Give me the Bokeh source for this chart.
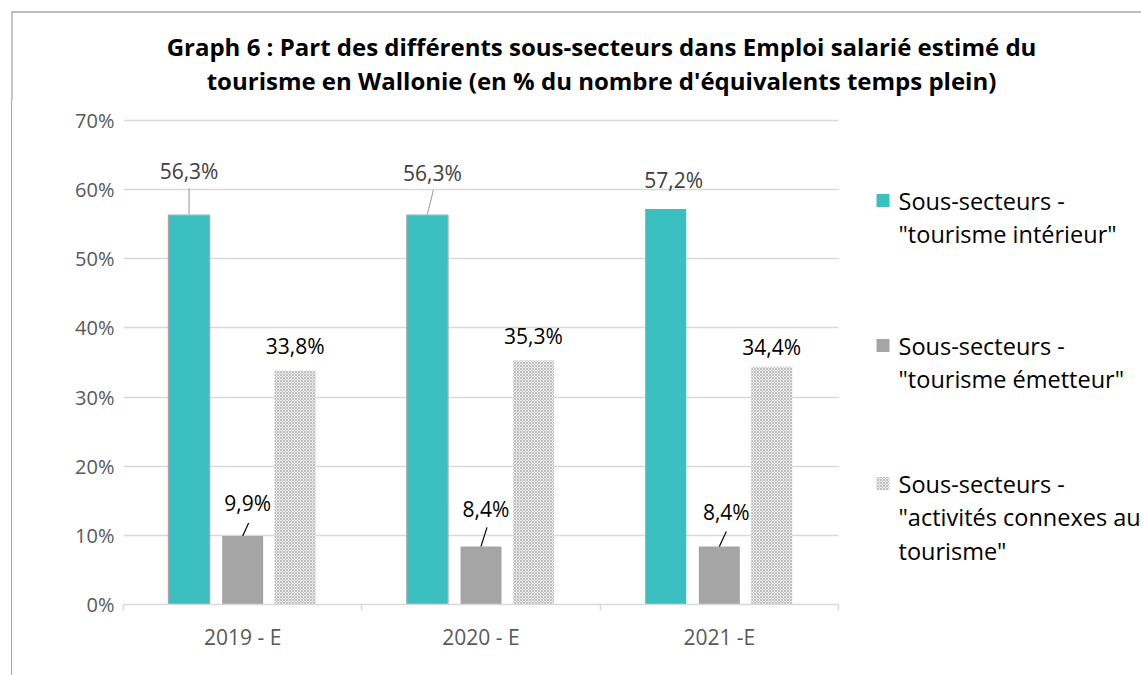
import numpy as np
from bokeh.plotting import figure
from bokeh.layouts import column, row
from bokeh.models import (ColumnDataSource, Range1d, LinearAxis, FixedTicker,
                          PrintfTickFormatter, LabelSet, Label, BoxAnnotation, Div)
from bokeh.core.properties import value
from bokeh.embed import file_html
from bokeh.resources import INLINE

# ---------------- data ----------------
categories = ["2019 - E", "2020 - E", "2021 -E"]
series_names = ['Sous-secteurs -\n"tourisme intérieur"',
                'Sous-secteurs -\n"tourisme émetteur"',
                'Sous-secteurs -\n"activités connexes au\ntourisme"']
interieur = [56.3, 56.3, 57.2]
emetteur = [9.9, 8.4, 8.4]
connexes = [33.8, 35.3, 34.4]
y_ticks = [0, 10, 20, 30, 40, 50, 60, 70]
title_lines = ["Graph 6 : Part des différents sous-secteurs dans Emploi salarié estimé du",
               "tourisme en Wallonie (en % du nombre d'équivalents temps plein)"]

# ---------------- styles ----------------
FONT = "Open Sans"
TEAL = "#3BBFC1"
GREY = "#A5A5A5"
GRID = "#D9D9D9"
TXT = "#595959"
BORDER = "#A6A6A6"
HATCH = dict(hatch_pattern="diagonal_cross", hatch_scale=3,
             hatch_color="#BFBFBF", hatch_weight=1)
bar_w = 0.172
offsets = [-0.225, 0.0, 0.22]

lab_dx = [[0, 5, 8], [5, 5, 7], [0, 0, 0]]
lab_dy = [[44, 42, 29], [33, 37, 34], [25, 24, 20]]
lab_col = ["#404040", "#000000", "#000000"]
lead_col = ["#A6A6A6", "#000000", "#000000"]
leaders = [[(0, 1, 27), (6, 1, 25), None],
           [(6, 0, 13), (6, 0, 19), (7, 0, 15)],
           [None, None, None]]

W, H = 1141, 675
TOP_H = 100          # title strip height
STRIP_W = 12         # left border strip width
FL, FR, FT, FB = 123, 838, 120, 604   # plot area (0..3, 0..70) in page px
px_x = 3.0 / (FR - FL)
px_y = 70.0 / (FB - FT)

# ---------------- title figure ----------------
t = figure(width=W, height=TOP_H, output_backend="svg", toolbar_location=None,
           x_range=Range1d(0, W), y_range=Range1d(0, TOP_H),
           x_axis_location=None, y_axis_location=None, min_border=0)
t.grid.visible = False
t.outline_line_color = None
t.segment(x0=[11, 11.5], y0=[TOP_H - 11.5, TOP_H - 11.5], x1=[W, 11.5], y1=[TOP_H - 11.5, 0],
          line_color=BORDER, line_width=1.3)
for i, line in enumerate(title_lines):
    t.add_layout(Label(x=601, y=TOP_H - 46 - 34 * i, x_units="screen", y_units="screen",
                       text=line, text_align="center", text_baseline="middle",
                       text_font=FONT, text_font_size="24px",
                       text_font_style="bold", text_color="#000000"))

# ---------------- left border strip ----------------
MH = H - TOP_H
s = Div(text="", width=STRIP_W, height=MH, margin=(0, 0, 0, 0),
        styles={"box-sizing": "border-box", "border-right": "1px solid " + BORDER,
                "padding": "0px", "margin": "0px"})

# ---------------- main figure ----------------
MW = W - STRIP_W
x_end = 3.0 + (W - FR) * px_x
y_end = 70.0 + (FT - TOP_H) * px_y
p = figure(width=MW, height=MH, output_backend="svg", toolbar_location=None,
           x_range=Range1d(0, x_end), y_range=Range1d(0, y_end),
           x_axis_location=None, y_axis_location=None,
           min_border_left=FL - STRIP_W, min_border_right=0,
           min_border_top=0, min_border_bottom=H - FB,
           background_fill_color="white", border_fill_color="white")
p.outline_line_color = None
p.xgrid.visible = False
p.ygrid.grid_line_color = GRID
p.ygrid.grid_line_width = 1.3
p.ygrid.ticker = FixedTicker(ticks=y_ticks)

centers = np.arange(len(categories)) + 0.5
series = [interieur, emetteur, connexes]

# mask grid lines in legend zone
p.add_layout(BoxAnnotation(left=3.0, fill_color="white", fill_alpha=1,
                           line_color=None, level="underlay"))

src0 = ColumnDataSource(dict(x=centers + offsets[0], top=interieur, la=[1, 1, 0]))
p.vbar(x="x", top="top", width=bar_w, source=src0, fill_color=TEAL,
       line_color="#A6A6A6", line_width=1.5, line_alpha="la")
src1 = ColumnDataSource(dict(x=centers + offsets[1], top=emetteur))
p.vbar(x="x", top="top", width=bar_w, source=src1, fill_color=GREY, line_color=None)
src2 = ColumnDataSource(dict(x=centers + offsets[2], top=connexes))
p.vbar(x="x", top="top", width=bar_w, source=src2, fill_color="#EDEDED",
       line_color=None, **HATCH)

lx, ly, lt, ldx, ldy, lc = [], [], [], [], [], []
x0s, y0s, x1s, y1s, sc = [], [], [], [], []
for si, vals in enumerate(series):
    for c, v in enumerate(vals):
        bx = centers[c] + offsets[si]
        lx.append(bx); ly.append(v)
        lt.append(f"{v:.1f}".replace(".", ",") + "%")
        ldx.append(lab_dx[si][c]); ldy.append(lab_dy[si][c]); lc.append(lab_col[si])
        ld = leaders[si][c]
        if ld:
            x0s.append(bx); y0s.append(v + ld[1] * px_y)
            x1s.append(bx + ld[0] * px_x); y1s.append(v + ld[2] * px_y)
            sc.append(lead_col[si])
p.segment(x0=x0s, y0=y0s, x1=x1s, y1=y1s, line_color=sc, line_width=1.2)
lsrc = ColumnDataSource(dict(x=lx, y=ly, t=lt, dx=ldx, dy=ldy, c=lc))
p.add_layout(LabelSet(x="x", y="y", text="t", x_offset="dx", y_offset="dy",
                      source=lsrc, text_align="center", text_baseline="middle",
                      text_font=value(FONT), text_font_size=value("21px"),
                      text_color="c"))

yax = LinearAxis(ticker=FixedTicker(ticks=y_ticks),
                 formatter=PrintfTickFormatter(format="%d%%"))
yax.axis_line_color = None
yax.major_tick_line_color = None
yax.minor_tick_line_color = None
yax.major_tick_out = 0
yax.major_label_standoff = 9
yax.major_label_text_font = FONT
yax.major_label_text_font_size = "20px"
yax.major_label_text_color = TXT
p.add_layout(yax, "left")

xax = LinearAxis(ticker=FixedTicker(ticks=list(centers),
                                    minor_ticks=list(range(len(categories) + 1))),
                 bounds=(0, 3))
xax.major_label_overrides = {float(c): n for c, n in zip(centers, categories)}
xax.axis_line_color = GRID
xax.axis_line_width = 1.5
xax.major_tick_line_color = None
xax.major_tick_out = 0
xax.major_tick_in = 0
xax.minor_tick_line_color = GRID
xax.minor_tick_line_width = 1.5
xax.minor_tick_out = 6
xax.minor_tick_in = 0
xax.major_label_standoff = 12
xax.major_label_text_font = FONT
xax.major_label_text_font_size = "21px"
xax.major_label_text_color = TXT
p.add_layout(xax, "below")

# legend (manual, in frame screen units: origin = plot-area bottom-left)
leg_y = [404, 259, 121]
leg_fill = [TEAL, GREY, "#EDEDED"]
for i, name in enumerate(series_names):
    kw = HATCH if i == 2 else {}
    p.add_layout(BoxAnnotation(left=753, right=766, top=leg_y[i] + 6.5,
                               bottom=leg_y[i] - 6.5, left_units="screen",
                               right_units="screen", top_units="screen",
                               bottom_units="screen", fill_color=leg_fill[i],
                               fill_alpha=1, line_color=None, **kw))
    for j, ln in enumerate(name.split("\n")):
        p.add_layout(Label(x=775, y=leg_y[i] - 33.5 * j, x_units="screen",
                           y_units="screen", text=ln, text_align="left",
                           text_baseline="middle", text_font=FONT,
                           text_font_size="23.5px", text_color="#000000"))

layout = column(t, row(s, p))
open("out.html", "w").write(file_html(layout, INLINE))
